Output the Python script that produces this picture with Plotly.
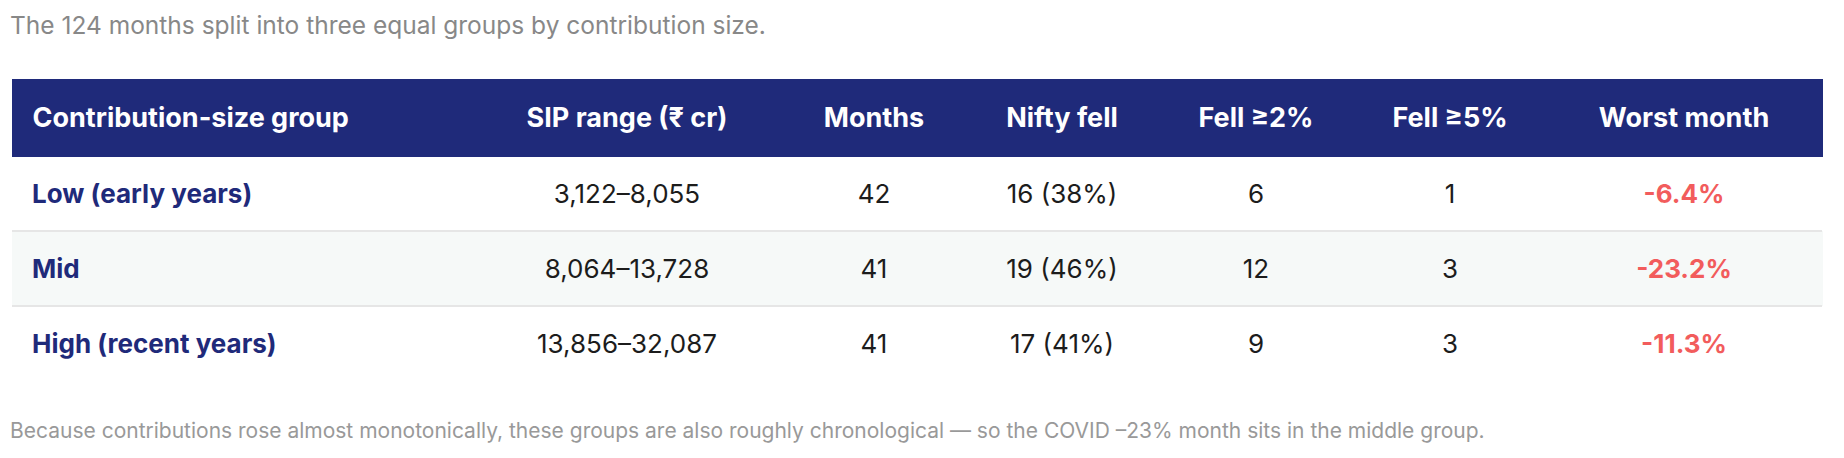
import plotly.graph_objects as go

# page has an 8px body margin, so the figure is a bit smaller than the window
W, H = 1828, 442
OFF = 8

columns = ["Contribution-size group", "SIP range (₹ cr)", "Months", "Nifty fell",
           "Fell ≥2%", "Fell ≥5%", "Worst month"]
groups = ["Low (early years)", "Mid", "High (recent years)"]
sip_range = ["3,122–8,055", "8,064–13,728", "13,856–32,087"]
months = [42, 41, 41]
nifty_fell = [16, 19, 17]
fell_pct = [38, 46, 41]
fell_2 = [6, 12, 9]
fell_5 = [1, 3, 3]
worst_month = [-6.4, -23.2, -11.3]

subtitle = "The 124 months split into three equal groups by contribution size."
footnote = ("Because contributions rose almost monotonically, these groups are also roughly "
            "chronological — so the COVID –23% month sits in the middle group.")

NAVY = "#1f2a7a"
RED = "#f25c5c"
INK = "#1c1c1c"
CLEAR = "rgba(0,0,0,0)"
row_fill = ["#ffffff", "#f6f9f8", "#ffffff"]

pad = "\u00a0\u2009"
cell_text = [
    [pad + "<b>" + g + "</b>" for g in groups],
    ["<span>" + s + "</span>" for s in sip_range],
    [f"<span>{m}</span>" for m in months],
    [f"<span>{n} ({p}%)</span>" for n, p in zip(nifty_fell, fell_pct)],
    [f"<span>{v}</span>" for v in fell_2],
    [f"<span>{v}</span>" for v in fell_5],
    [f"<b>{v:.1f}%</b>" for v in worst_month],
]
head_text = [(pad if i == 0 else "") + f"<b>{c}</b>" for i, c in enumerate(columns)]
empty_head = [""] * len(columns)
empty_cells = [[""] * len(groups) for _ in columns]

# table edges in page px (minus body margin)
left, right, top = 12 - OFF, 1822 - OFF, 79 - OFF
head_h, row_h = 77, 75
bottom = top + head_h + row_h * len(groups)
widths = [460, 310, 184, 192, 196, 192, 276]
aligns = ["left"] + ["center"] * 6
text_drop = 14  # plotly puts table text at the top of a cell; push it to the middle


def table(dy, head_vals, cell_vals, head_fill, cell_fill, head_line, cell_line):
    return go.Table(
        domain=dict(x=[left / W, right / W],
                    y=[1 - (bottom + dy) / H, 1 - (top + dy) / H]),
        columnwidth=widths,
        header=dict(values=head_vals, fill_color=head_fill,
                    line=dict(color=head_line, width=1), align=aligns,
                    font=dict(family="Inter", size=27, color="white"),
                    height=head_h),
        cells=dict(values=cell_vals, fill_color=cell_fill,
                   line=dict(color=cell_line, width=1), align=aligns,
                   font=dict(family="Inter", size=26,
                             color=[NAVY, INK, INK, INK, INK, INK, RED]),
                   height=row_h),
    )


fig = go.Figure()
# backgrounds
fig.add_trace(table(0, empty_head, empty_cells, NAVY, [row_fill] * len(columns),
                    NAVY, [row_fill] * len(columns)))
# text layer
fig.add_trace(table(text_drop, head_text, cell_text, CLEAR, CLEAR, CLEAR, CLEAR))

# thin separators between body rows
for k in range(1, len(groups)):
    y = 1 - (top + head_h + row_h * k) / H
    fig.add_shape(type="line", xref="paper", yref="paper",
                  x0=left / W, x1=right / W, y0=y, y1=y,
                  line=dict(color="#e6e6e6", width=2), layer="above")

fig.add_annotation(text=subtitle, xref="paper", yref="paper", x=0, y=1 - (25 - OFF) / H,
                   xanchor="left", yanchor="middle", showarrow=False,
                   font=dict(family="Inter", size=24.5, color="#888888"))
fig.add_annotation(text=footnote, xref="paper", yref="paper", x=0, y=1 - (430 - OFF) / H,
                   xanchor="left", yanchor="middle", showarrow=False,
                   font=dict(family="Inter", size=21, color="#999999"))

fig.update_layout(width=W, height=H, margin=dict(l=0, r=0, t=0, b=0),
                  paper_bgcolor="white", plot_bgcolor="white")
fig.write_html("out.html")
